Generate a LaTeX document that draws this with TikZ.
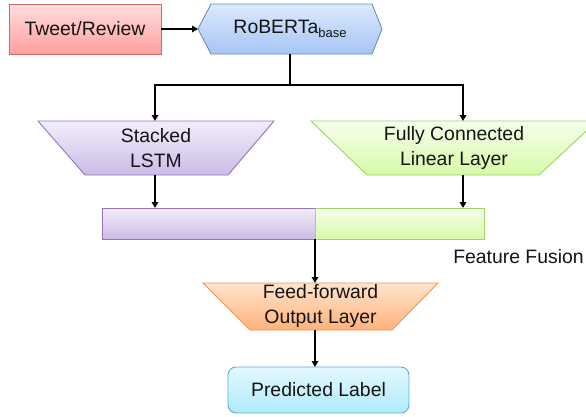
\documentclass[tikz,border=0pt]{standalone}
\usepackage{fontspec}
\setmainfont{Liberation Sans}
\usetikzlibrary{arrows.meta}
\definecolor{pinkT}{RGB}{255,222,222}
\definecolor{pinkB}{RGB}{255,158,158}
\definecolor{pinkD}{RGB}{214,102,102}
\definecolor{blueT}{RGB}{220,234,252}
\definecolor{blueB}{RGB}{166,196,246}
\definecolor{blueD}{RGB}{108,142,191}
\definecolor{purT}{RGB}{242,237,250}
\definecolor{purB}{RGB}{204,188,230}
\definecolor{purD}{RGB}{150,115,190}
\definecolor{grnT}{RGB}{246,255,236}
\definecolor{grnB}{RGB}{214,250,168}
\definecolor{grnD}{RGB}{160,210,100}
\definecolor{orgT}{RGB}{255,228,204}
\definecolor{orgB}{RGB}{255,178,124}
\definecolor{orgD}{RGB}{240,150,80}
\definecolor{cyaT}{RGB}{228,248,255}
\definecolor{cyaB}{RGB}{176,234,250}
\definecolor{cyaD}{RGB}{90,176,210}
\tikzset{
  lbl/.style={font=\fontsize{19.4}{25}\selectfont, align=center, inner sep=0pt, text=black!92},
  conn/.style={line width=1.8pt, -{Triangle[length=6pt,width=6.5pt]}},
  plain/.style={line width=1.8pt},
  box/.style={line width=0.9pt}
}
\begin{document}
\begin{tikzpicture}[x=1pt,y=1pt]
\useasboundingbox (0,0) rectangle (586,-416);
\clip (0,0) rectangle (586,-416);
% Tweet/Review
\path[box, draw=pinkD, top color=pinkT, bottom color=pinkB] (9,-4) rectangle (161,-54);
\node[lbl] (tweet) at (85,-29) {Tweet/Review};
\coordinate (tweetE) at (161,-29);
% RoBERTa
\path[box, draw=blueD, top color=blueT, bottom color=blueB]
  (198,-29) -- (211,-4) -- (372,-4) -- (382,-29) -- (372,-54) -- (211,-54) -- cycle;
\node[lbl] (rob) at (290,-29) {RoBERTa\raisebox{-0.45ex}{\fontsize{13}{13}\selectfont base}};
\coordinate (robW) at (198,-29);
\coordinate (robS) at (290,-54);
\coordinate (j) at (290,-85);
% Stacked LSTM
\path[box, draw=purD, top color=purT, bottom color=purB]
  (38,-121) -- (274,-121) -- (228,-175) -- (85,-175) -- cycle;
\node[lbl] (lstm) at (156,-148) {Stacked\\LSTM};
\coordinate (lstmN) at (155,-121);
\coordinate (lstmS) at (155,-175);
% Fully connected
\path[box, draw=grnD, top color=grnT, bottom color=grnB]
  (311,-121) -- (597,-121) -- (539,-175) -- (367,-175) -- cycle;
\node[lbl] (fc) at (454,-148) {Fully Connected\\Linear Layer};
\coordinate (fcN) at (463,-121);
\coordinate (fcS) at (463,-175);
% Fusion bar
\path[box, draw=purD, top color=purT, bottom color=purB] (102,-208) rectangle (315,-239);
\path[box, draw=grnD, top color=grnT, bottom color=grnB] (315,-208) rectangle (484,-239);
\coordinate (barL) at (155,-208);
\coordinate (barR) at (463,-208);
\coordinate (barS) at (315,-239);
\node[lbl] (fus) at (518.5,-257) {Feature Fusion};
% Feed-forward
\path[box, draw=orgD, top color=orgT, bottom color=orgB]
  (203,-283) -- (438,-283) -- (392,-330) -- (250,-330) -- cycle;
\node[lbl] (ff) at (320.5,-306) {Feed-forward\\Output Layer};
\coordinate (ffN) at (315,-283);
\coordinate (ffS) at (315,-330);
% Predicted label
\path[box, draw=cyaD, top color=cyaT, bottom color=cyaB, rounded corners=8pt] (228,-367) rectangle (409,-413);
\node[lbl] (pred) at (318.5,-390) {Predicted Label};
\coordinate (predN) at (315,-367);
% connectors
\draw[conn] (tweetE) -- (robW);
\draw[plain] (robS) -- (j);
\draw[conn] (j) -| (lstmN);
\draw[conn] (j) -| (fcN);
\draw[conn] (lstmS) -- (barL);
\draw[conn] (fcS) -- (barR);
\draw[conn] (barS) -- (ffN);
\draw[conn] (ffS) -- (predN);
\end{tikzpicture}
\end{document}
